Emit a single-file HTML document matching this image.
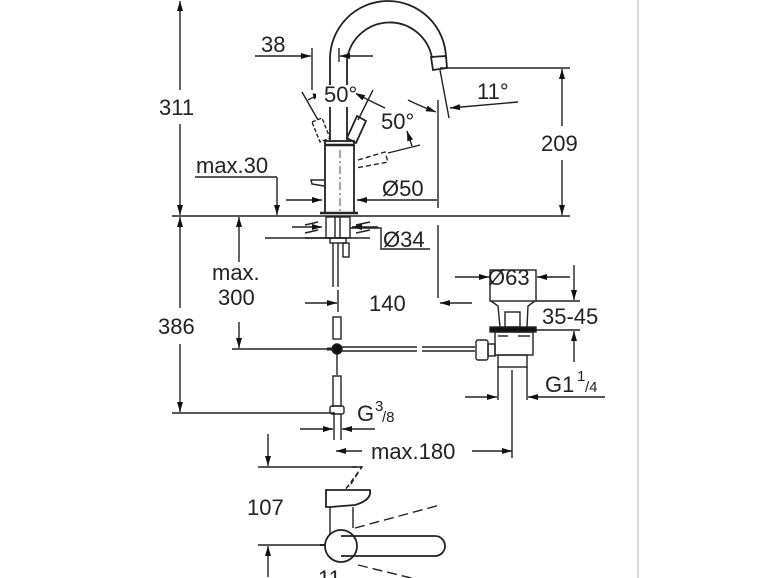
<!DOCTYPE html>
<html><head><meta charset="utf-8"><style>
html,body{margin:0;padding:0;background:#fff;width:770px;height:578px;overflow:hidden}
svg{display:block}
text{font-family:"Liberation Sans",sans-serif;font-size:22px;fill:#222}
</style></head><body>
<svg width="770" height="578" viewBox="0 0 770 578" xmlns="http://www.w3.org/2000/svg">
<defs>
<marker id="a" viewBox="0 0 10 6" refX="10" refY="3" markerWidth="11" markerHeight="6" orient="auto-start-reverse" markerUnits="userSpaceOnUse"><path d="M0,0 L10,3 L0,6 z" fill="#111"/></marker>
</defs>
<g stroke="#222" stroke-width="1.4" fill="none">
<line x1="638" y1="0" x2="638" y2="578" stroke="#ccc"/>
<line x1="172" y1="216" x2="570" y2="216"/>
<line x1="180" y1="1" x2="180" y2="90" marker-start="url(#a)"/>
<line x1="180" y1="124" x2="180" y2="215" marker-end="url(#a)"/>
<line x1="180" y1="217" x2="180" y2="308" marker-start="url(#a)"/>
<line x1="180" y1="344" x2="180" y2="412" marker-end="url(#a)"/>
<line x1="172" y1="413" x2="335" y2="413"/>
<line x1="440" y1="68" x2="570" y2="68"/>
<line x1="562" y1="69" x2="562" y2="126" marker-start="url(#a)"/>
<line x1="562" y1="160" x2="562" y2="215" marker-end="url(#a)"/>
<path d="M330,140 L330,60 A58,58 0 0 1 446,58" stroke-width="1.8"/>
<path d="M347,140 L347,60 A43,43 0 0 1 432,58" stroke-width="1.8"/>
<path d="M431,57 L446,56 L447,68 L433,70 Z" stroke-width="1.8"/>
<line x1="440" y1="70" x2="449" y2="118"/>
<line x1="438" y1="100" x2="438" y2="208"/>
<line x1="438" y1="225" x2="438" y2="298"/>
<path d="M408,100 Q420,106 436,112" marker-end="url(#a)"/>
<line x1="518" y1="102" x2="450" y2="108" marker-end="url(#a)"/>
<rect x="325" y="141" width="29" height="72" stroke-width="1.8"/>
<line x1="325" y1="145" x2="354" y2="145" stroke-width="2.5"/>
<line x1="340" y1="150" x2="340" y2="212" stroke-dasharray="8,3,2,3" stroke-width="0.8"/>
<line x1="320" y1="213" x2="358" y2="213" stroke-width="2.5"/>
<path d="M324,186 L312,184 L311,180 L325,180"/>
<path d="M312,122 L322,118 L330,138 L320,142 Z" stroke-dasharray="4,2"/>
<path d="M347,138 L357,116 L366,121 L356,143 Z" stroke-width="1.8"/>
<line x1="302" y1="92" x2="318" y2="120"/>
<line x1="373" y1="90" x2="358" y2="120"/>
<path d="M358,160 L385,152 L388,162 L356,168" stroke-dasharray="5,3"/>
<line x1="388" y1="153" x2="420" y2="145"/>
<path d="M308,100 Q315,96 323,94" marker-end="url(#a)"/>
<path d="M355,93 Q368,100 385,108" marker-start="url(#a)"/>
<line x1="407" y1="131" x2="412" y2="146" marker-start="url(#a)"/>
<line x1="312" y1="48" x2="312" y2="90"/>
<line x1="339" y1="48" x2="339" y2="62"/>
<line x1="255" y1="56" x2="311" y2="56" marker-end="url(#a)"/>
<line x1="373" y1="56" x2="340" y2="56" marker-end="url(#a)"/>
<line x1="195" y1="177" x2="277" y2="177"/>
<line x1="277" y1="177" x2="277" y2="215" marker-end="url(#a)"/>
<line x1="286" y1="200" x2="322" y2="200" marker-end="url(#a)"/>
<line x1="437" y1="200" x2="357" y2="200" marker-end="url(#a)"/>
<g stroke-width="1.6">
<line x1="305" y1="225" x2="318" y2="222"/><line x1="305" y1="233" x2="318" y2="230"/>
<line x1="356" y1="225" x2="370" y2="222"/><line x1="356" y1="233" x2="370" y2="230"/>
</g>
<line x1="305" y1="238" x2="370" y2="238"/>
<rect x="326" y="217" width="24" height="21"/>
<rect x="330" y="238" width="16" height="5"/>
<line x1="335" y1="217" x2="335" y2="238"/><line x1="340" y1="217" x2="340" y2="238"/>
<rect x="343" y="243" width="6" height="14"/>
<line x1="333" y1="243" x2="333" y2="287"/><line x1="338" y1="243" x2="338" y2="287"/>
<line x1="292" y1="227" x2="322" y2="227" marker-end="url(#a)"/>
<line x1="378" y1="227" x2="352" y2="227" marker-end="url(#a)"/>
<polyline points="350,228 381,228 381,249 430,249"/>
<line x1="265" y1="238" x2="330" y2="238"/>
<line x1="239" y1="262" x2="239" y2="217" marker-end="url(#a)"/>
<line x1="239" y1="322" x2="239" y2="348" marker-end="url(#a)"/>
<line x1="232" y1="349" x2="328" y2="349"/>
<line x1="305" y1="303" x2="337" y2="303" marker-end="url(#a)"/>
<line x1="472" y1="303" x2="440" y2="303" marker-end="url(#a)"/>
<line x1="338" y1="290" x2="338" y2="312"/>
<rect x="333" y="317" width="8" height="22"/>
<circle cx="337" cy="349" r="5" fill="#111"/>
<line x1="327" y1="349" x2="332" y2="349" stroke-width="3"/>
<line x1="342" y1="347" x2="417" y2="347"/><line x1="342" y1="351" x2="417" y2="351"/>
<line x1="422" y1="347" x2="475" y2="347"/><line x1="422" y1="351" x2="475" y2="351"/>
<line x1="337" y1="354" x2="337" y2="375"/>
<rect x="333" y="376" width="8" height="30"/>
<rect x="330" y="406" width="14" height="8" rx="2"/>
<line x1="334" y1="414" x2="334" y2="440"/><line x1="341" y1="414" x2="341" y2="440"/>
<line x1="300" y1="429" x2="333" y2="429" marker-end="url(#a)"/>
<line x1="375" y1="429" x2="342" y2="429" marker-end="url(#a)"/>
<line x1="336" y1="451" x2="362" y2="451" marker-start="url(#a)"/>
<line x1="472" y1="451" x2="512" y2="451" marker-end="url(#a)"/>
<line x1="512" y1="370" x2="512" y2="458"/>
<rect x="490" y="270" width="46" height="31"/>
<path d="M491,301 L498,306 L500,327 M535,301 L528,306 L527,327"/>
<rect x="505" y="312" width="15" height="15"/>
<rect x="490" y="327" width="46" height="5" fill="#111"/>
<rect x="495" y="332" width="38" height="23"/>
<line x1="498" y1="336" x2="508" y2="336"/><line x1="518" y1="336" x2="530" y2="336"/>
<rect x="498" y="355" width="29" height="12"/>
<line x1="498" y1="367" x2="498" y2="400"/><line x1="527" y1="367" x2="527" y2="400"/>
<rect x="476" y="340" width="12" height="20" rx="2"/>
<rect x="488" y="344" width="7" height="12"/>
<line x1="455" y1="277" x2="489" y2="277" marker-end="url(#a)"/>
<line x1="570" y1="277" x2="537" y2="277" marker-end="url(#a)"/>
<line x1="536" y1="301" x2="580" y2="301"/>
<line x1="536" y1="330" x2="580" y2="330"/>
<line x1="574" y1="265" x2="574" y2="300" marker-end="url(#a)"/>
<line x1="574" y1="362" x2="574" y2="331" marker-end="url(#a)"/>
<line x1="465" y1="397" x2="497" y2="397" marker-end="url(#a)"/>
<line x1="605" y1="397" x2="528" y2="397" marker-end="url(#a)"/>
<line x1="268" y1="434" x2="268" y2="466" marker-end="url(#a)"/>
<line x1="258" y1="467" x2="362" y2="467"/>
<path d="M352,467 L362,467 L345,490 M358,473 L349,487" stroke-dasharray="5,3"/>
<path d="M326,490 L370,490 Q372,500 355,505 L330,507 L326,507 Z" stroke-width="1.8"/>
<path d="M330,507 L330,535 M353,507 L353,528"/>
<circle cx="341" cy="546" r="16" stroke-width="1.8"/>
<path d="M341,536 L435,536 A10,10 0 0 1 435,556 L341,556" stroke-width="1.8"/>
<path d="M355,528 L440,505 M358,565 L440,585" stroke-dasharray="10,5"/>
<line x1="320" y1="545" x2="326" y2="545" stroke-width="2"/>
<line x1="268" y1="577" x2="268" y2="546" marker-end="url(#a)"/>
<line x1="258" y1="545" x2="320" y2="545"/>
</g>
<rect x="316" y="85" width="40" height="22" fill="#fff"/>
<text x="159" y="115">311</text>
<text x="158" y="334">386</text>
<text x="541" y="151">209</text>
<text x="261" y="52">38</text>
<text x="324" y="102">50°</text>
<text x="381" y="129">50°</text>
<text x="477" y="99">11°</text>
<text x="196" y="173">max.30</text>
<text x="382" y="196">Ø50</text>
<text x="383" y="247">Ø34</text>
<text x="212" y="280">max.</text>
<text x="218" y="305">300</text>
<text x="369" y="311">140</text>
<text x="488" y="285">Ø63</text>
<text x="542" y="324">35-45</text>
<text x="545" y="392">G1</text><text x="577" y="381" style="font-size:15px">1</text><text x="585" y="392" style="font-size:15px">/4</text>
<text x="357" y="421">G</text><text x="375" y="411" style="font-size:15px">3</text><text x="382" y="422" style="font-size:15px">/8</text>
<text x="371" y="459">max.180</text>
<text x="247" y="515">107</text>
<text x="318" y="586">11</text>
</svg>
</body></html>
